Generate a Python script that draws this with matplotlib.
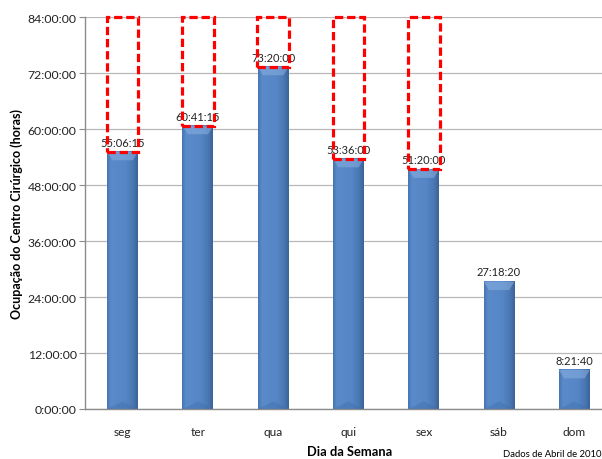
import numpy as np
import matplotlib
matplotlib.use('Agg')
import matplotlib.pyplot as plt
from matplotlib.colors import LinearSegmentedColormap
from matplotlib.patches import Rectangle, Polygon
from matplotlib.ticker import FixedLocator, FuncFormatter

plt.rcParams['font.family'] = ['Lato', 'DejaVu Sans']

# operating-room occupation per weekday (April 2010), as H:MM:SS
days = ['seg', 'ter', 'qua', 'qui', 'sex', 'sáb', 'dom']
durations = ['55:06:15', '60:41:15', '73:20:00', '53:36:00', '51:20:00', '27:18:20', '8:21:40']
weekdays = ['seg', 'ter', 'qua', 'qui', 'sex']  # boxed up to the 84h capacity
capacity = 84
y_ticks = [0, 12, 24, 36, 48, 60, 72, 84]


def to_hours(s):
    h, m, sec = (int(p) for p in s.split(':'))
    return h + m / 60 + sec / 3600


def fmt_hours(v, pos=None):
    total = int(round(v * 3600))
    return f"{total // 3600}:{(total % 3600) // 60:02d}:{total % 60:02d}"


hours = [to_hours(d) for d in durations]

fig = plt.figure(figsize=(6.02, 4.60), dpi=100)
ax = fig.add_axes([0.1412, 0.1087, 0.8754, 0.852])

x = np.arange(len(days))
bar_w = 0.41
bar_cmap = LinearSegmentedColormap.from_list('bar', [
    (0.0, '#4775b2'), (0.12, '#5a8aca'), (0.6, '#5686c6'),
    (0.85, '#4a77b3'), (1.0, '#3a6399')])
grad = np.linspace(0, 1, 64).reshape(1, -1)

for xi, h in zip(x, hours):
    x0, x1 = xi - bar_w / 2, xi + bar_w / 2
    ax.imshow(grad, cmap=bar_cmap, aspect='auto', extent=(x0, x1, 0, h),
              origin='lower', zorder=2, interpolation='bilinear')
    # bevel: light wedge at the top, darker wedge at the base
    d = 1.8
    ax.add_patch(Polygon([(x0, h), (x1, h), (x1 - 0.07, h - d), (x0 + 0.07, h - d)],
                         closed=True, facecolor='#8fb4e3', alpha=0.5, lw=0, zorder=3))
    ax.add_patch(Polygon([(x0, 0), (x1, 0), (xi, d * 0.9)],
                         closed=True, facecolor='#3d6aa5', alpha=0.35, lw=0, zorder=3))
    ax.text(xi, h + 0.9, fmt_hours(h), ha='center', va='bottom',
            fontsize=8, color='#222222', zorder=5)

# dashed boxes showing unused capacity on weekdays
box_w = 0.42
for xi, day, h in zip(x, days, hours):
    if day not in weekdays:
        continue
    ax.add_patch(Rectangle((xi - box_w / 2, h), box_w, capacity - h, fill=False,
                           edgecolor='#ff0000', lw=2.3, linestyle=(0, (2.6, 1.2)),
                           zorder=6, clip_on=False))

ax.set_xlim(-0.5, len(days) - 0.5)
ax.set_ylim(0, capacity)
ax.yaxis.set_major_locator(FixedLocator(y_ticks))
ax.yaxis.set_major_formatter(FuncFormatter(fmt_hours))
ax.set_xticks(x)
ax.set_xticklabels(days)
ax.grid(axis='y', color='#b8b8b8', lw=0.9, zorder=0)
ax.set_axisbelow(True)

for side in ['top', 'right']:
    ax.spines[side].set_visible(False)
for side in ['left', 'bottom']:
    ax.spines[side].set_color('#8c8c8c')
    ax.spines[side].set_linewidth(1.0)

ax.tick_params(axis='y', length=4, color='#8c8c8c', labelsize=8.8, pad=2, labelcolor='#222222')
ax.tick_params(axis='x', length=0, labelsize=8.6, pad=12, labelcolor='#222222')

ax.set_ylabel('Ocupação do Centro Cirúrgico (horas)', fontsize=9,
              fontweight='bold')
ax.yaxis.set_label_coords(-0.118, 0.5)
fig.text(0.58, 0.018, 'Dia da Semana', ha='center', va='center',
         fontsize=9.3, fontweight='bold')
fig.text(0.999, 0.013, 'Dados de Abril de 2010', ha='right', va='center', fontsize=6.8)

fig.savefig('out.png', dpi=100)
